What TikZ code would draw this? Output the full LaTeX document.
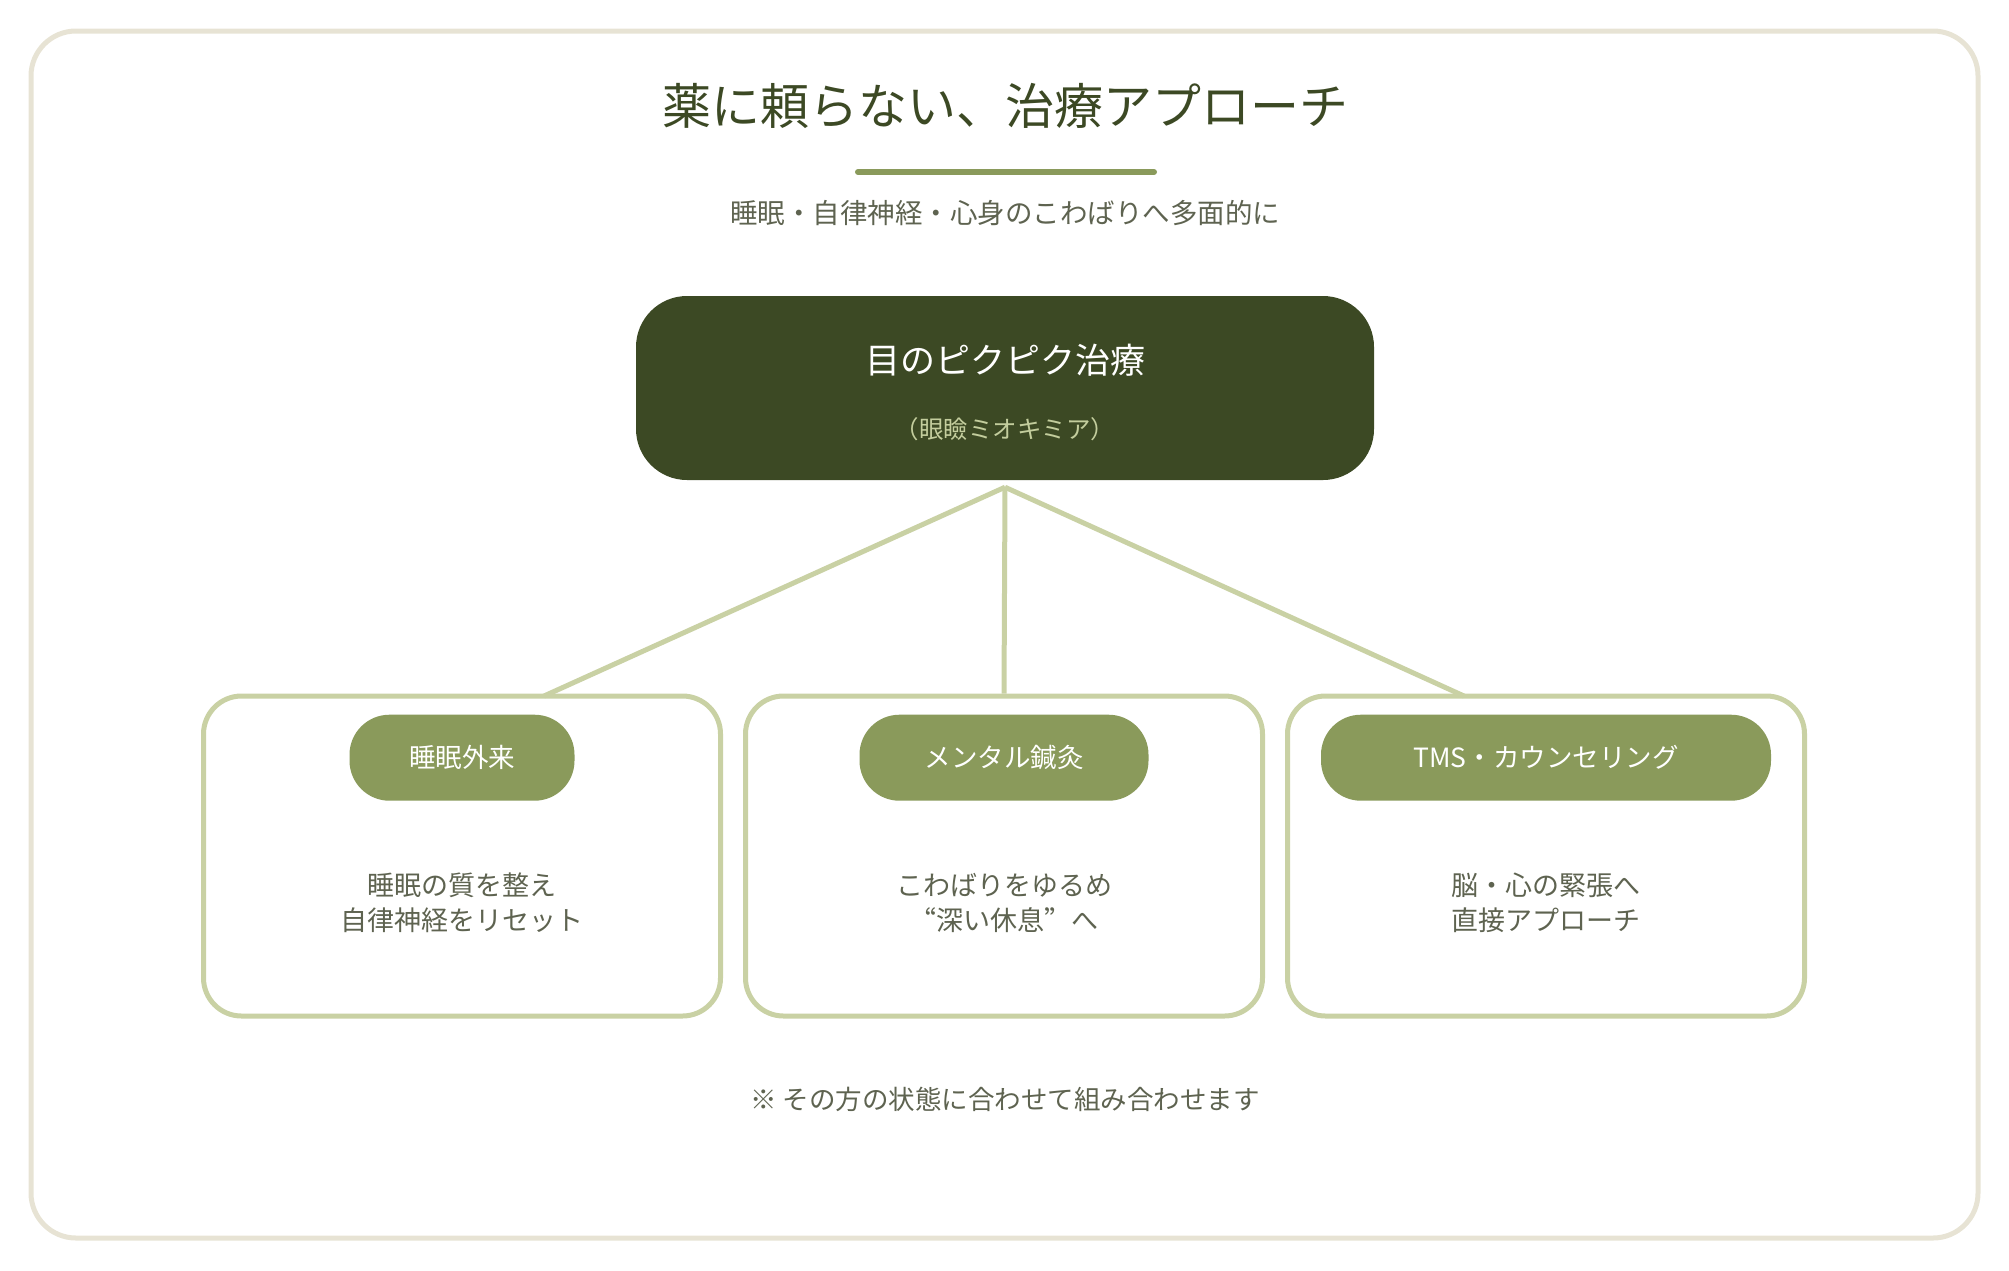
\documentclass[tikz,border=0pt]{standalone}
\usepackage{fontspec}
\setmainfont{Noto Sans CJK JP}
\usetikzlibrary{positioning,calc}
\definecolor{cdeep}{HTML}{3C4924}
\definecolor{colive}{HTML}{8A9A5B}
\definecolor{cline}{HTML}{C9D1A4}
\definecolor{cframe}{HTML}{E7E3D4}
\definecolor{ctext}{HTML}{5E6350}
\definecolor{csub}{HTML}{C3CD9D}
\newcommand{\fs}[2]{\fontsize{#1}{#2}\selectfont}
\newcommand{\fw}[1]{{\addfontfeature{CharacterWidth=Full}#1}}

\begin{document}
\begin{tikzpicture}[x=1pt,y=-1pt,
    card/.style={draw=cline,line width=5pt,fill=white,rounded corners=38pt,
                 minimum width=517pt,minimum height=320pt},
    pill/.style={fill=colive,rounded corners=40pt,minimum height=86pt,
                 text=white,font=\fs{26.5}{30}},
    body/.style={text=ctext,font=\fs{27}{35},align=center},
    link/.style={draw=cline,line width=5pt}]
  \useasboundingbox (0,0) rectangle (2009,1270);
  \draw[cframe,line width=5pt,rounded corners=45pt] (31,31) rectangle (1978,1238);

  % heading
  \node[text=cdeep,font=\fs{49}{56}] (title) at (1005,106) {薬に頼らない、治療アプローチ};
  \draw[colive,line width=6pt,line cap=round] (858,172) -- (1154,172);
  \node[text=ctext,font=\fs{27.5}{32}] (tagline) at (1005,213) {睡眠・自律神経・心身のこわばりへ多面的に};

  % root
  \node[fill=cdeep,rounded corners=51pt,minimum width=738pt,minimum height=184pt] (root) at (1005,388) {};
  \node[text=white,font=\fs{35}{40}] (rootname) at (1005,360) {目のピクピク治療};
  \node[text=csub,font=\fs{24.5}{28}] (rootsub) at (1005,429) {（眼瞼ミオキミア）};

  % three cards
  \node[card] (sleep) at (462,856) {};
  \node[card,right=20pt of sleep] (mental) {};
  \node[card,right=20pt of mental] (tms) {};

  \node[pill,minimum width=225pt,below=21pt of sleep.north] (sleeptag) {睡眠外来};
  \node[pill,minimum width=289pt,below=21pt of mental.north] (mentaltag) {メンタル鍼灸};
  \node[pill,minimum width=450pt,below=21pt of tms.north] (tmstag) {TMS・カウンセリング};

  \node[body] (sleeptxt) at ($(sleep)+(0,47)$) {睡眠の質を整え\\自律神経をリセット};
  \node[body] (mentaltxt) at ($(mental)+(0,47)$) {こわばりをゆるめ\\\fw{“}深い休息\fw{”}へ};
  \node[body] (tmstxt) at ($(tms)+(0,47)$) {脳・心の緊張へ\\直接アプローチ};

  % links
  \coordinate (hub) at ($(root.south)+(0,7)$);
  \coordinate (sleeptop) at ($(sleep.north)+(82,2.5)$);
  \coordinate (tmstop) at ($(tms.north)+(-82,2.5)$);
  \draw[link] (hub) -- (sleeptop);
  \draw[link] (hub) -- (mental.north);
  \draw[link] (hub) -- (tmstop);

  \node[text=ctext,font=\fs{26.5}{30}] (note) at (1005,1099) {※ その方の状態に合わせて組み合わせます};
\end{tikzpicture}
\end{document}
